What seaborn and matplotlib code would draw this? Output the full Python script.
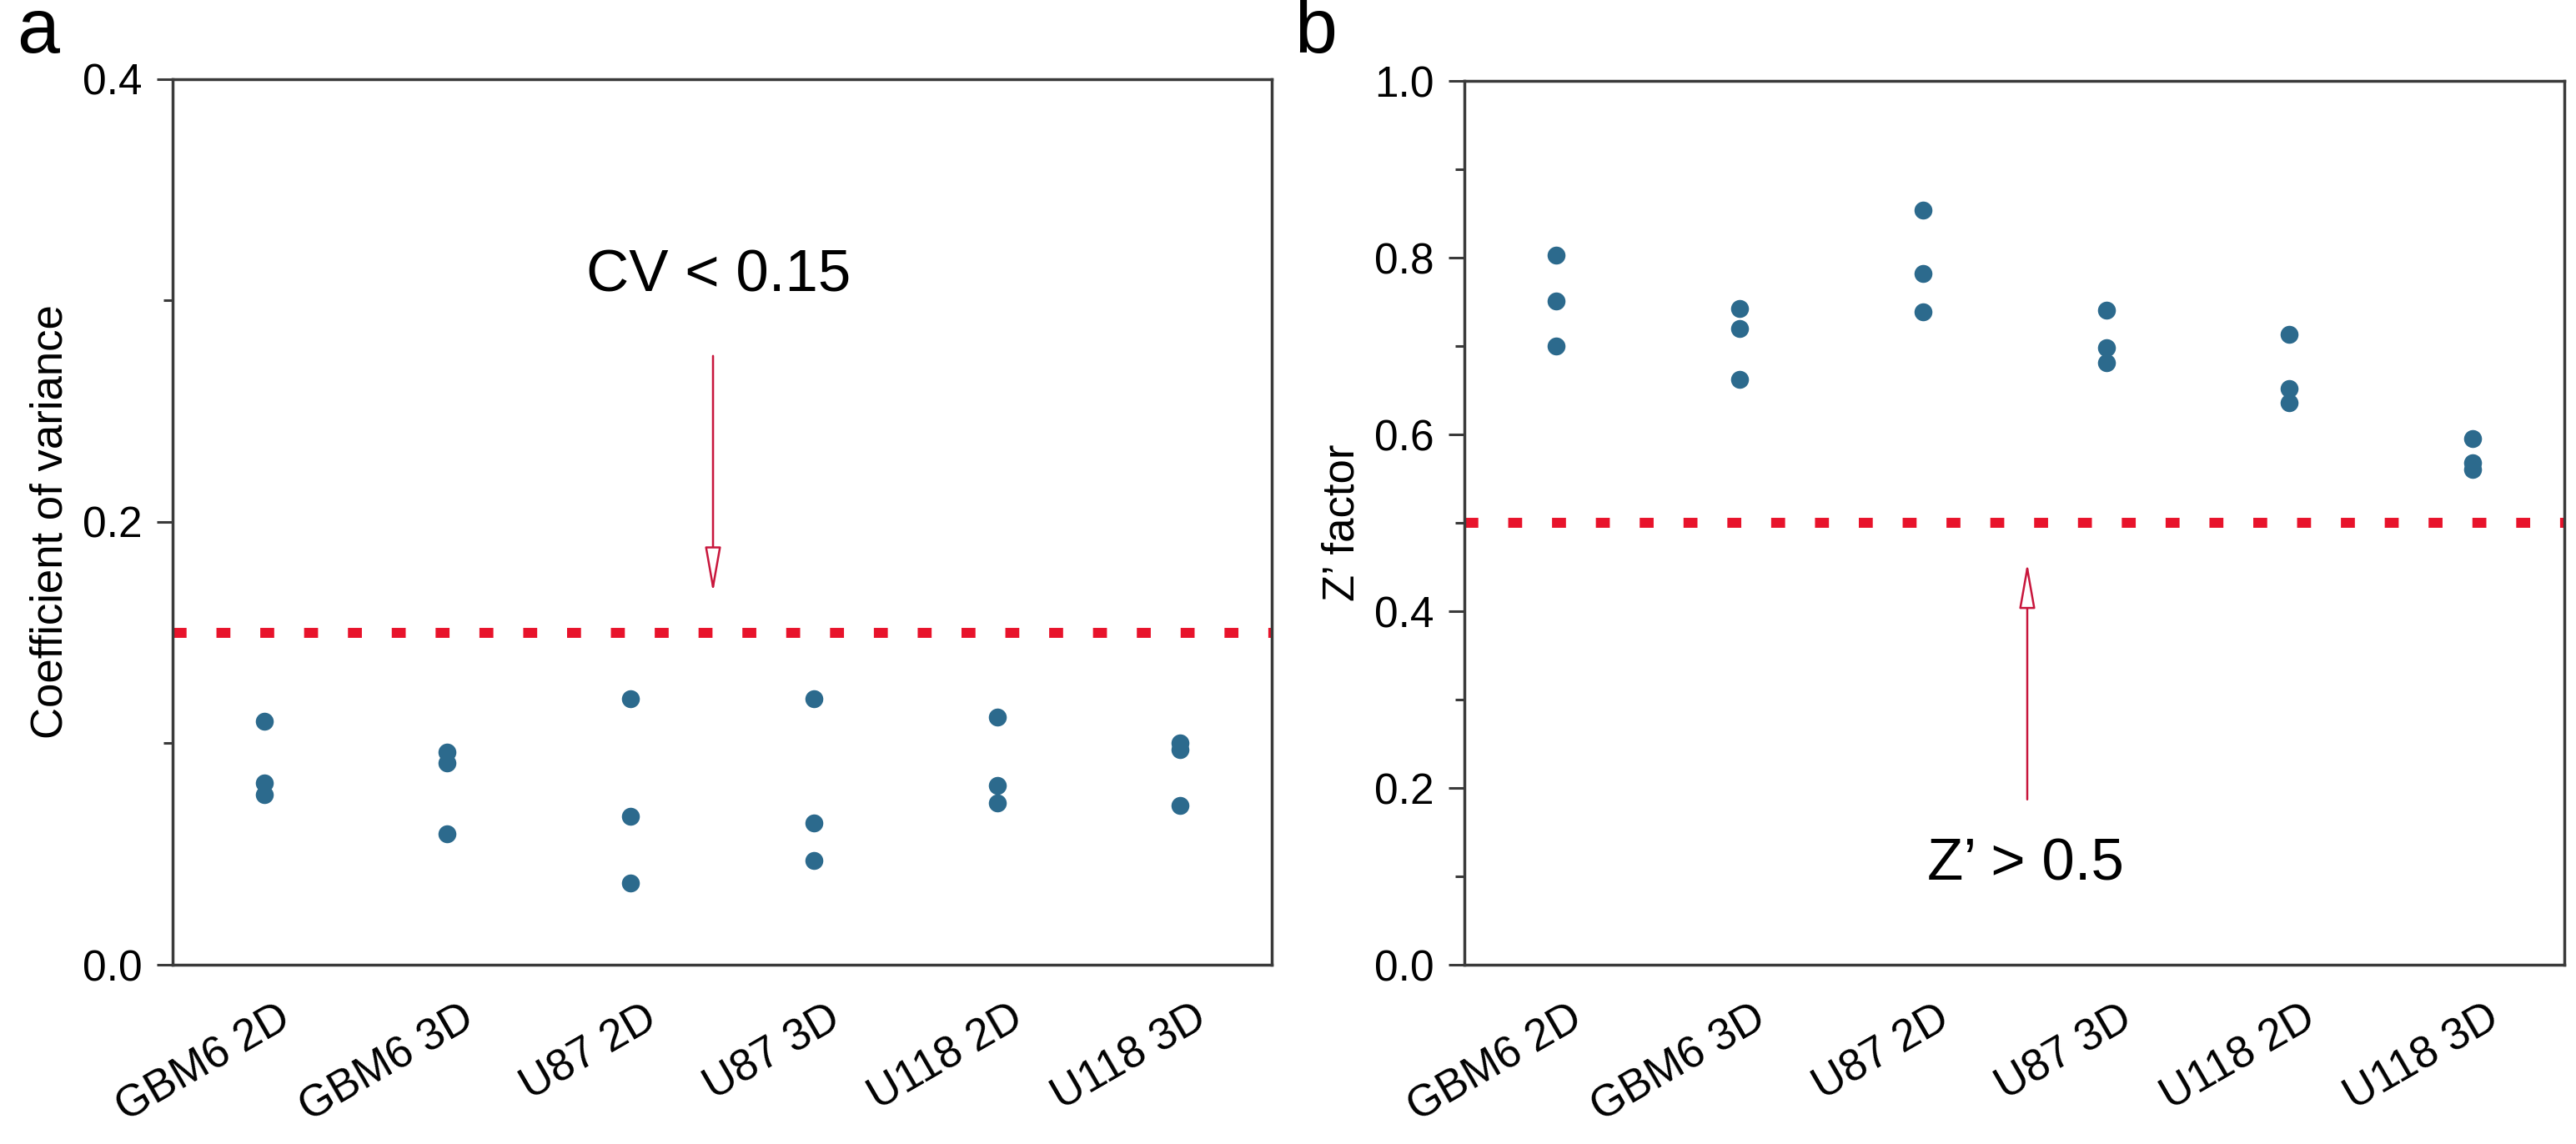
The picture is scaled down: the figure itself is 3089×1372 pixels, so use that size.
import matplotlib
matplotlib.use("Agg")
import matplotlib.pyplot as plt
import matplotlib.transforms as mtransforms
from matplotlib.ticker import MultipleLocator
import pandas as pd
import seaborn as sns

sns.set_style("ticks")
plt.rcParams['font.family'] = ['Liberation Sans', 'DejaVu Sans']
plt.rcParams['text.color'] = 'black'
plt.rcParams['axes.labelcolor'] = 'black'

# data (3 replicates per cell line)
categories = ["GBM6 2D", "GBM6 3D", "U87 2D", "U87 3D", "U118 2D", "U118 3D"]
cv_values = [
    [0.110, 0.082, 0.077],
    [0.096, 0.091, 0.059],
    [0.120, 0.067, 0.037],
    [0.120, 0.064, 0.047],
    [0.112, 0.081, 0.073],
    [0.100, 0.097, 0.072],
]
z_values = [
    [0.803, 0.751, 0.700],
    [0.742, 0.720, 0.662],
    [0.854, 0.782, 0.739],
    [0.741, 0.698, 0.681],
    [0.713, 0.652, 0.636],
    [0.595, 0.568, 0.560],
]
cv_threshold = 0.15
z_threshold = 0.5


def to_long(values):
    rows = []
    for cat, reps in zip(categories, values):
        for v in reps:
            rows.append((cat, v))
    return pd.DataFrame(rows, columns=["line", "value"])


df_cv = to_long(cv_values)
df_z = to_long(z_values)

dot_color = "#2c6a8d"
dash_color = "#e8132b"
arrow_color = "#c8163c"
spine_color = "#3a3a3a"

fig = plt.figure(figsize=(30.89, 13.72), dpi=100)
ax1 = fig.add_axes([0.0670, 0.1567, 0.4267, 0.7741])
ax2 = fig.add_axes([0.5685, 0.1567, 0.4270, 0.7726])


def style_axis(ax, ymax, major, ylabel):
    ax.set_xlim(-0.5, len(categories) - 0.5)
    ax.set_ylim(0, ymax)
    ax.yaxis.set_major_locator(MultipleLocator(major))
    ax.yaxis.set_minor_locator(MultipleLocator(major / 2))
    ax.set_xlabel("")
    ax.set_ylabel(ylabel, fontsize=38, labelpad=10, color="black")
    for s in ax.spines.values():
        s.set_visible(True)
        s.set_color(spine_color)
        s.set_linewidth(2.5)
    ax.tick_params(axis="y", which="major", direction="out", length=14,
                   width=2.2, color=spine_color, labelsize=37, pad=12,
                   labelcolor="black")
    ax.tick_params(axis="y", which="minor", direction="out", length=8,
                   width=2.2, color=spine_color)
    ax.tick_params(axis="x", length=0, labelsize=38, pad=28,
                   labelcolor="black")
    offset = mtransforms.ScaledTranslation(0.15, 0, fig.dpi_scale_trans)
    for lab in ax.get_xticklabels():
        lab.set_rotation(30)
        lab.set_ha("right")
        lab.set_va("top")
        lab.set_rotation_mode("anchor")
        lab.set_transform(lab.get_transform() + offset)


# panel a
ax1.axhline(cv_threshold, color=dash_color, lw=8.6, dashes=(1.4, 3.0),
            dash_capstyle="butt", zorder=1)
sns.stripplot(data=df_cv, x="line", y="value", order=categories, jitter=False,
              color=dot_color, size=15.5, linewidth=0, ax=ax1, zorder=3)
style_axis(ax1, 0.4, 0.2, "Coefficient of variance")
ax1.annotate("", xy=(2.45, 0.168), xytext=(2.45, 0.275),
             arrowprops=dict(arrowstyle="-|>,head_length=1.7,head_width=0.3",
                             mutation_scale=20, facecolor="white",
                             edgecolor=arrow_color, lw=1.8,
                             shrinkA=0, shrinkB=0))
ax1.text(2.48, 0.311, "CV < 0.15", ha="center", va="center", fontsize=51,
         color="black")

# panel b
ax2.axhline(z_threshold, color=dash_color, lw=8.6, dashes=(1.4, 3.0),
            dash_capstyle="butt", zorder=1)
sns.stripplot(data=df_z, x="line", y="value", order=categories, jitter=False,
              color=dot_color, size=15.5, linewidth=0, ax=ax2, zorder=3)
style_axis(ax2, 1.0, 0.2, "Z\u2019 factor")
ax2.annotate("", xy=(2.57, 0.455), xytext=(2.57, 0.187),
             arrowprops=dict(arrowstyle="-|>,head_length=1.7,head_width=0.3",
                             mutation_scale=20, facecolor="white",
                             edgecolor=arrow_color, lw=1.8,
                             shrinkA=0, shrinkB=0))
ax2.text(2.56, 0.113, "Z\u2019 > 0.5", ha="center", va="center", fontsize=51,
         color="black")

fig.text(0.0065, 0.954, "a", fontsize=66, ha="left", va="baseline",
         color="black")
fig.text(0.5025, 0.954, "b", fontsize=66, ha="left", va="baseline",
         color="black")

fig.savefig("out.png", dpi=100)
